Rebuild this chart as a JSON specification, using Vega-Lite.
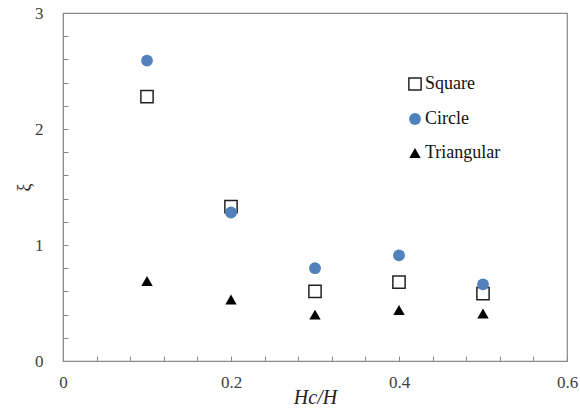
{
  "$schema": "https://vega.github.io/schema/vega-lite/v6.json",
  "autosize": {"type": "none"},
  "width": 504,
  "height": 348,
  "padding": {"left": 63, "top": 13, "right": 13, "bottom": 54},
  "background": "white",
  "config": {
    "font": "Liberation Serif",
    "view": {"stroke": "#8a8a8a", "strokeWidth": 1.2},
    "legend": {"labelFont": "Liberation Serif"},
    "axis": {"grid": false, "domainColor": "#8a8a8a", "tickColor": "#8a8a8a", "labelColor": "#404040", "labelFont": "Liberation Serif", "labelFontSize": 17, "titleFont": "Liberation Serif", "titleColor": "#222222", "titleFontWeight": "normal"}
  },
  "data": {
    "values": [
      {"x": 0.1, "y": 2.28, "series": "Square"},
      {"x": 0.2, "y": 1.33, "series": "Square"},
      {"x": 0.3, "y": 0.6, "series": "Square"},
      {"x": 0.4, "y": 0.68, "series": "Square"},
      {"x": 0.5, "y": 0.58, "series": "Square"},
      {"x": 0.1, "y": 2.59, "series": "Circle"},
      {"x": 0.2, "y": 1.28, "series": "Circle"},
      {"x": 0.3, "y": 0.8, "series": "Circle"},
      {"x": 0.4, "y": 0.91, "series": "Circle"},
      {"x": 0.5, "y": 0.66, "series": "Circle"},
      {"x": 0.1, "y": 0.69, "series": "Triangular"},
      {"x": 0.2, "y": 0.53, "series": "Triangular"},
      {"x": 0.3, "y": 0.4, "series": "Triangular"},
      {"x": 0.4, "y": 0.44, "series": "Triangular"},
      {"x": 0.5, "y": 0.41, "series": "Triangular"}
    ]
  },
  "mark": {"type": "point", "filled": true, "opacity": 1},
  "encoding": {
    "x": {
      "field": "x", "type": "quantitative",
      "scale": {"domain": [0, 0.6], "nice": false, "zero": false},
      "axis": {
        "values": [0, 0.04, 0.08, 0.12, 0.16, 0.2, 0.24, 0.28, 0.32, 0.36, 0.4, 0.44, 0.48, 0.52, 0.56, 0.6],
        "labelExpr": "abs(datum.value*5 - round(datum.value*5)) < 0.000001 ? format(datum.value, '~g') : ''",
        "tickSize": -5, "labelPadding": 18, "labelFlush": false,
        "title": "Hc/H", "titleFontStyle": "italic", "titleFontSize": 20, "titlePadding": -3
      }
    },
    "y": {
      "field": "y", "type": "quantitative",
      "scale": {"domain": [0, 3], "nice": false},
      "axis": {
        "values": [0, 0.2, 0.4, 0.6, 0.8, 1, 1.2, 1.4, 1.6, 1.8, 2, 2.2, 2.4, 2.6, 2.8, 3],
        "labelExpr": "abs(datum.value - round(datum.value)) < 0.000001 ? format(datum.value, '~g') : ''",
        "tickSize": -5, "labelPadding": 25, "labelFlush": false,
        "title": "ξ", "titleFontSize": 18, "titlePadding": 1
      }
    },
    "shape": {
      "field": "series", "type": "nominal",
      "scale": {"domain": ["Square", "Circle", "Triangular"], "range": ["square", "circle", "triangle-up"]},
      "legend": {
        "title": null, "orient": "none", "legendX": 343, "legendY": 62,
        "labelFontSize": 18, "labelColor": "#111111",
        "rowPadding": 16, "labelOffset": 1, "symbolStrokeWidth": 1.5
      }
    },
    "fill": {
      "field": "series", "type": "nominal",
      "scale": {"domain": ["Square", "Circle", "Triangular"], "range": ["white", "#4f81bd", "black"]}
    },
    "stroke": {
      "field": "series", "type": "nominal",
      "scale": {"domain": ["Square", "Circle", "Triangular"], "range": ["#222222", "transparent", "transparent"]}
    },
    "size": {
      "field": "series", "type": "nominal",
      "scale": {"domain": ["Square", "Circle", "Triangular"], "range": [150, 130, 120]}
    },
    "strokeWidth": {"value": 1.5}
  }
}
